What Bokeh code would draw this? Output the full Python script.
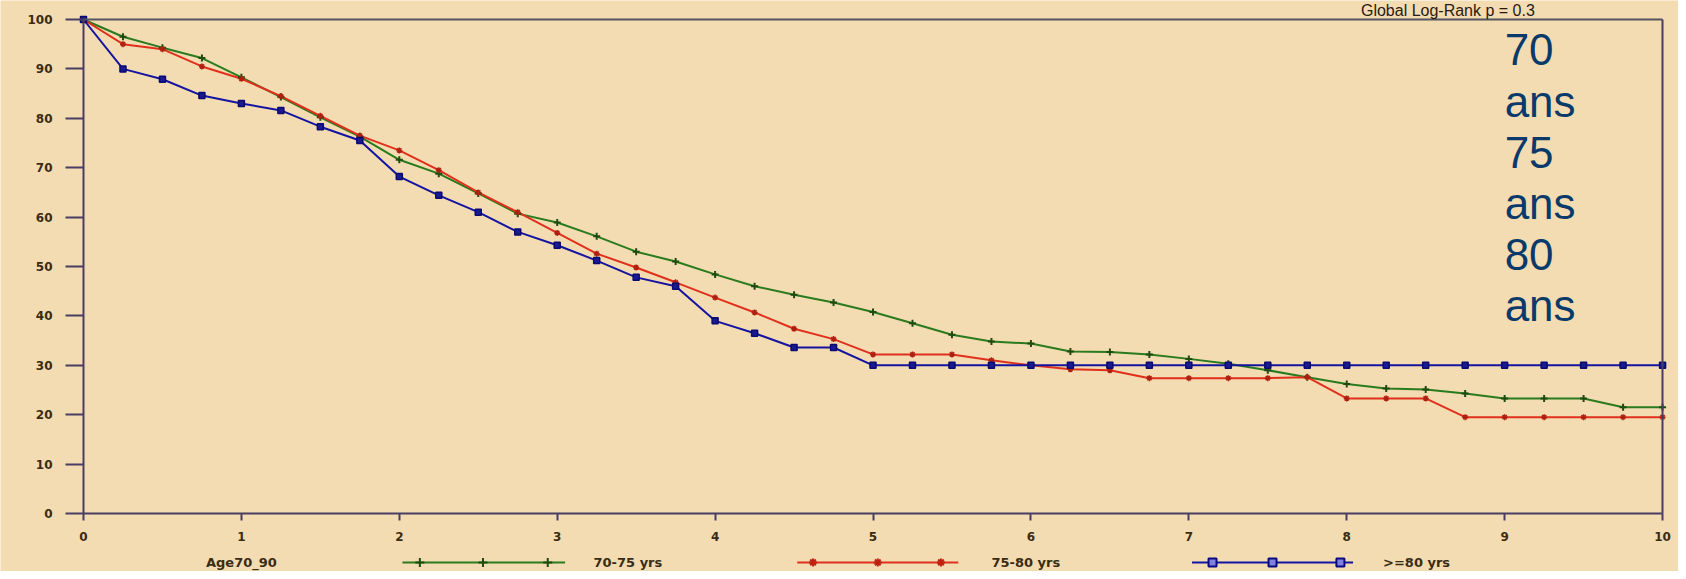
from bokeh.plotting import figure
from bokeh.models import ColumnDataSource, LinearAxis, Range1d, Label, FixedTicker
from bokeh.core.properties import value
from bokeh.embed import file_html
from bokeh.resources import INLINE

# ---------------- data ----------------
years = [0, 0.25, 0.5, 0.75, 1.0, 1.25, 1.5, 1.75, 2.0, 2.25, 2.5, 2.75, 3.0, 3.25, 3.5,
         3.75, 4.0, 4.25, 4.5, 4.75, 5.0, 5.25, 5.5, 5.75, 6.0, 6.25, 6.5, 6.75, 7.0, 7.25,
         7.5, 7.75, 8.0, 8.25, 8.5, 8.75, 9.0, 9.25, 9.5, 9.75, 10.0]

surv_70_75 = [100, 96.5, 94.3, 92.2, 88.3, 84.3, 80.2, 76.3, 71.6, 68.8, 64.8, 60.7, 58.9, 56.1,
              53.0, 51.0, 48.4, 46.0, 44.3, 42.7, 40.8, 38.5, 36.2, 34.8, 34.4, 32.8, 32.7, 32.2,
              31.3, 30.3, 29.0, 27.6, 26.2, 25.3, 25.1, 24.3, 23.3, 23.3, 23.3, 21.5, 21.5]

surv_75_80 = [100, 95.0, 94.0, 90.5, 88.0, 84.5, 80.5, 76.5, 73.5, 69.5, 65.0, 61.0, 56.8, 52.6,
              49.8, 46.8, 43.7, 40.7, 37.4, 35.3, 32.2, 32.2, 32.2, 31.0, 30.0, 29.2, 29.0, 27.4,
              27.4, 27.4, 27.4, 27.6, 23.3, 23.3, 23.3, 19.5, 19.5, 19.5, 19.5, 19.5, 19.5]

surv_80_plus = [100, 90.0, 87.9, 84.6, 83.0, 81.6, 78.3, 75.5, 68.2, 64.4, 61.0, 57.0, 54.3, 51.2,
                47.8, 46.0, 39.0, 36.5, 33.6, 33.6, 30.0, 30.0, 30.0, 30.0, 30.0, 30.0, 30.0, 30.0,
                30.0, 30.0, 30.0, 30.0, 30.0, 30.0, 30.0, 30.0, 30.0, 30.0, 30.0, 30.0, 30.0]

series_labels = ["70-75 yrs", "75-80 yrs", ">=80 yrs"]
x_ticks = [0, 1, 2, 3, 4, 5, 6, 7, 8, 9, 10]
y_ticks = [0, 10, 20, 30, 40, 50, 60, 70, 80, 90, 100]
legend_title = "Age70_90"
side_note = "70\nans\n75\nans\n80\nans"
top_note = "Global Log-Rank p = 0.3"

# ---------------- styles ----------------
BG = "#F3DCB2"
AXIS_COL = "#4a3d63"
GREEN = "#2a7a1e"
RED = "#e0301c"
BLUE = "#1414a0"
TXT = "#3a2c14"
FONT = value("DejaVu Sans")
PX_PER_Y = 4.94

p = figure(width=1678, height=571, output_backend="svg", toolbar_location=None,
           x_range=Range1d(-0.5256, 10.101), y_range=Range1d(-11.74, 100 + 19 / PX_PER_Y),
           min_border_left=0, min_border_right=0, min_border_top=0, min_border_bottom=0,
           x_axis_location=None, y_axis_location=None,
           background_fill_color=BG, border_fill_color=BG, outline_line_color=None)
p.grid.visible = False

def style_axis(ax, col):
    ax.axis_line_color = col
    ax.axis_line_width = 2
    ax.major_tick_line_color = col
    ax.major_tick_line_width = 2
    ax.minor_tick_line_color = None
    ax.major_tick_in = 0
    ax.major_label_text_color = TXT
    ax.major_label_text_font = "DejaVu Sans"
    ax.major_label_text_font_style = "bold"
    ax.major_label_text_font_size = "12px"

xaxis = LinearAxis(fixed_location=0, bounds=(0, 10), ticker=FixedTicker(ticks=x_ticks))
style_axis(xaxis, AXIS_COL)
xaxis.major_tick_out = 7
xaxis.major_label_standoff = 11
p.add_layout(xaxis, "below")

yaxis = LinearAxis(fixed_location=0, bounds=(0, 100), ticker=FixedTicker(ticks=y_ticks))
style_axis(yaxis, AXIS_COL)
yaxis.major_tick_out = 18
yaxis.major_label_standoff = 13
p.add_layout(yaxis, "left")

top_ax = LinearAxis(fixed_location=100, bounds=(0, 10), ticker=FixedTicker(ticks=[]))
style_axis(top_ax, "#55555f")
top_ax.major_tick_out = 0
top_ax.major_label_text_font_size = "0px"
p.add_layout(top_ax, "above")

right_ax = LinearAxis(fixed_location=10, bounds=(0, 100), ticker=FixedTicker(ticks=[]))
style_axis(right_ax, AXIS_COL)
right_ax.major_tick_out = 0
right_ax.major_label_text_font_size = "0px"
p.add_layout(right_ax, "right")

src = ColumnDataSource(dict(t=years, g=surv_70_75, r=surv_75_80, b=surv_80_plus))

p.line("t", "g", source=src, line_color=GREEN, line_width=2)
p.line("t", "r", source=src, line_color=RED, line_width=2)
p.line("t", "b", source=src, line_color=BLUE, line_width=2)
p.scatter("t", "g", source=src, marker="cross", size=7, line_color="#1f4a10", line_width=2)
p.scatter("t", "r", source=src, marker="asterisk", size=6, line_color="#b02010", line_width=1.5)
p.scatter("t", "b", source=src, marker="square", size=6, line_color="#0a0a70",
          fill_color="#1a1a90", line_width=1.5)

# ---------------- legend row (drawn below the axis) ----------------
LEG_Y = -9.9
leg_src = ColumnDataSource(dict(
    x0=[2.02, 4.52, 7.02], x1=[3.05, 5.54, 8.04],
    y=[LEG_Y] * 3, col=[GREEN, RED, BLUE],
    tx=[3.23, 5.75, 8.23], lab=series_labels))
p.segment(x0="x0", y0="y", x1="x1", y1="y", source=leg_src, line_color="col", line_width=2)
for xs, marker, lc, fc, sz in [([2.13, 2.53, 2.94], "cross", "#1f4a10", None, 9),
                                ([4.62, 5.03, 5.43], "asterisk", "#c02010", None, 8),
                                ([7.15, 7.53, 7.96], "square", "#0a0a80", "#8080e0", 8)]:
    p.scatter(x=xs, y=[LEG_Y] * 3, marker=marker, size=sz, line_color=lc,
              fill_color=fc, line_width=2)
p.text(x="tx", y="y", text="lab", source=leg_src, text_font=FONT, text_font_style="bold",
       text_font_size="13px", text_color=TXT, text_baseline="middle", text_align="left")

p.add_layout(Label(x=1.0, y=LEG_Y, text=legend_title, text_font="DejaVu Sans",
                   text_font_style="bold", text_font_size="13px", text_color=TXT,
                   text_align="center", text_baseline="middle"))

p.text(x=[9.0], y=[98.8], text=[side_note], text_font=value("Liberation Sans"),
       text_font_size="44px", text_color="#0a3a6a", text_baseline="top",
       text_align="left", text_line_height=1.045)

p.add_layout(Label(x=8.09, y=100 + 18.0 / PX_PER_Y, text=top_note, text_font="Liberation Sans",
                   text_font_size="16px", text_color="#2a1a10", text_align="left",
                   text_baseline="top"))

open("out.html", "w").write(file_html(p, INLINE))
